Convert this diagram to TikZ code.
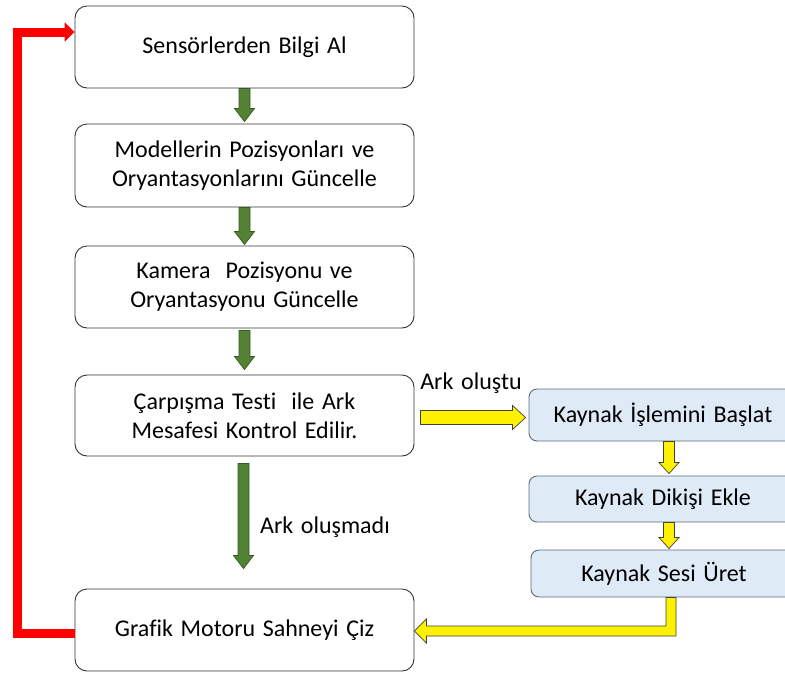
\documentclass[tikz,border=0pt]{standalone}
\usepackage{fontspec}
\setmainfont{Carlito}[Ligatures=NoCommon, WordSpace=1.4]
\usetikzlibrary{calc,arrows.meta}
\definecolor{gfill}{HTML}{548235}
\definecolor{gline}{HTML}{3A5A24}
\definecolor{kfill}{HTML}{DEEBF7}
\definecolor{kline}{HTML}{5F6B78}
\newcommand\vdown[7]{% style, from, to, start gap, end gap, x shift, dims
 \path[#1] let \p1=($(#2.south)+(#6pt,-#4pt)$), \p2=($(#3.north)+(#6pt,#5pt)$) in
 (\x1-\sw,\y1) -- (\x1-\sw,\y2+\hl) -- (\x1-\hw,\y2+\hl) -- (\x1,\y2) -- (\x1+\hw,\y2+\hl) -- (\x1+\sw,\y2+\hl) -- (\x1+\sw,\y1) -- cycle;}
\begin{document}
\begin{tikzpicture}[x=1pt,y=-1pt,
  box/.style={draw=black!80, line width=0.9pt, rounded corners=12pt, fill=white,
    minimum width=339pt, align=center, inner sep=0pt, font=\fontsize{24}{29}\selectfont},
  kbox/.style={draw=kline, line width=0.9pt, rounded corners=8pt, fill=kfill,
    minimum width=268pt, align=center, inner sep=0pt, font=\fontsize{24}{29}\selectfont},
  garrow/.style={fill=gfill, draw=gline, line width=0.7pt},
  yarrow/.style={fill=yellow, draw=black!75, line width=0.7pt, line join=miter},
  redline/.style={draw=red, line width=9pt, line join=miter, -{Triangle[length=10pt,width=19pt]}},
  lbl/.style={font=\fontsize{24}{29}\selectfont, inner sep=0pt}]
\clip (0,0) rectangle (785,673);
\useasboundingbox (0,0) rectangle (785,673);

\node[box, minimum height=82pt] (b1) at (244.5,47) {Sensörlerden Bilgi Al};
\node[box, minimum height=83pt] (b2) at (244.5,165.5) {Modellerin Pozisyonları ve\\Oryantasyonlarını Güncelle};
\node[box, minimum height=82pt] (b3) at (244.5,287) {Kamera \ Pozisyonu ve\\Oryantasyonu Güncelle};
\node[box, minimum height=81pt] (b4) at (244.5,415.5) {Çarpışma Testi \ ile Ark\\Mesafesi Kontrol Edilir.};
\node[box, minimum height=82pt] (b5) at (244.5,630) {Grafik Motoru Sahneyi Çiz};

\node[kbox, minimum height=52pt] (k1) at (663,415) {Kaynak İşlemini Başlat};
\node[kbox, minimum height=46pt] (k2) at (663,499) {Kaynak Dikişi Ekle};
\node[kbox, minimum height=47pt, minimum width=266pt] (k3) at (664,573.5) {Kaynak Sesi Üret};

% green arrows
\def\sw{5.5pt}\def\hw{10pt}\def\hl{13pt}
\vdown{garrow}{b1}{b2}{0}{2}{0}{}
\vdown{garrow}{b2}{b3}{0}{1}{0}{}
\vdown{garrow}{b3}{b4}{2}{5}{0}{}
\vdown{garrow}{b4}{b5}{7}{20}{-1}{}

% yellow down arrows
\def\sw{5.5pt}\def\hw{10pt}\def\hl{11pt}
\vdown{yarrow}{k1}{k2}{0}{2}{6}{}
\vdown{yarrow}{k2}{k3}{0}{1}{6}{}

% yellow right arrow
\path[yarrow] let \p1=($(b4.east)+(6pt,-2pt)$), \p2=($(k1.west)+(-3pt,0pt)$) in
  (\x1,\y1+7pt) -- (\x2-13pt,\y1+7pt) -- (\x2-13pt,\y1+12pt) -- (\x2,\y1) --
  (\x2-13pt,\y1-12pt) -- (\x2-13pt,\y1-7pt) -- (\x1,\y1-7pt) -- cycle;

% yellow elbow arrow
\path[yarrow] let \p1=($(k3.south)+(7pt,0pt)$), \p2=($(b5.east)+(0pt,-1pt)$) in
  (\x1-5pt,\y1) -- (\x1-5pt,\y2+5pt) -- (\x2+12pt,\y2+5pt) -- (\x2+12pt,\y2+12pt) --
  (\x2,\y2) -- (\x2+12pt,\y2-12pt) -- (\x2+12pt,\y2-5pt) -- (\x1+5pt,\y2-5pt) --
  (\x1+5pt,\y1) -- cycle;

% red feedback arrow
\draw[redline] ($(b5.west)+(0pt,-3pt)$) -- ++(-57pt,0pt) |- ($(b1.west)+(0pt,15pt)$);

% labels
\node[lbl] (l1) at (471,383) {Ark oluştu};
\node[lbl] (l2) at (325,527) {Ark oluşmadı};
\end{tikzpicture}
\end{document}
